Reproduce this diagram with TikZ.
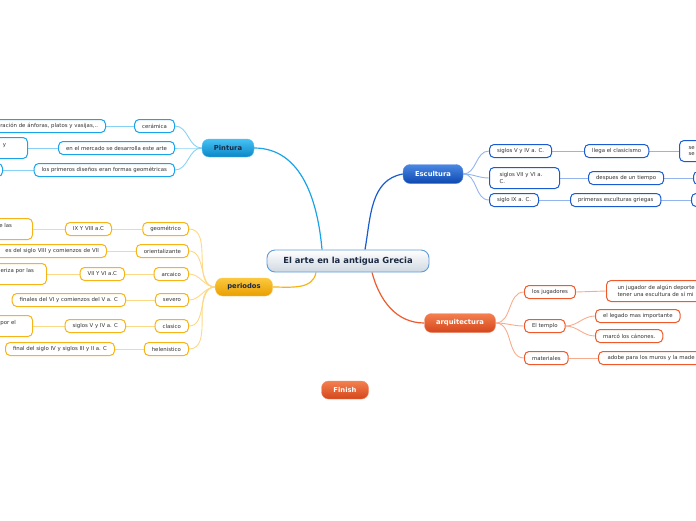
\documentclass[tikz,border=0pt]{standalone}
\usepackage{fontspec}
\setmainfont{DejaVu Sans}
\usetikzlibrary{positioning}
\definecolor{pintblue}{HTML}{1AA3E8}
\definecolor{pinttop}{HTML}{45C2F4}
\definecolor{pintbot}{HTML}{0B86C8}
\definecolor{pintline}{HTML}{86D2F4}
\definecolor{escblue}{HTML}{1A5CCF}
\definecolor{esctop}{HTML}{4A88E4}
\definecolor{escbot}{HTML}{0E48B0}
\definecolor{escline}{HTML}{94B4EE}
\definecolor{perorange}{HTML}{F6B417}
\definecolor{pertop}{HTML}{FBC93E}
\definecolor{perbot}{HTML}{E99E00}
\definecolor{perline}{HTML}{FCD987}
\definecolor{arqred}{HTML}{EE5A2B}
\definecolor{arqtop}{HTML}{F4804F}
\definecolor{arqbot}{HTML}{D4461B}
\definecolor{arqline}{HTML}{F8AC8E}
\definecolor{rootline}{HTML}{5E9CD8}
\definecolor{rootbot}{HTML}{CFD8E1}
\definecolor{roottext}{HTML}{1B2A44}
\definecolor{subtext}{HTML}{333333}
\pgfdeclarelayer{background}
\pgfsetlayers{background,main}

\begin{document}
\begin{tikzpicture}[x=1pt, y=-1pt,
    % 1. Nodo central y ramas principales
    root/.style={
        draw=rootline, line width=0.9pt, rounded corners=8pt,
        top color=white, bottom color=rootbot, text=roottext,
        minimum width=162pt, minimum height=22pt,
        font=\fontsize{8.4}{9}\selectfont\bfseries
    },
    topic/.style={
        rounded corners=7pt, minimum height=18pt, inner xsep=8pt,
        font=\fontsize{6.8}{7.5}\selectfont\bfseries
    },
    % 2. Cajas secundarias por color de rama
    sub/.style={
        fill=white, line width=1pt, rounded corners=4.5pt, text=subtext,
        minimum height=13pt, inner xsep=7.5pt, inner ysep=1pt,
        font=\fontsize{5.4}{6.3}\selectfont
    },
    pint/.style={sub, draw=pintblue},
    esc/.style={sub, draw=escblue},
    per/.style={sub, draw=perorange},
    arq/.style={sub, draw=arqred},
    tall/.style={minimum height=21pt},
    cutleft/.style={text width=#1, align=right},
    % 3. Conectores
    branch/.style={line width=1.2pt},
    twig/.style={line width=0.9pt}
]
    \useasboundingbox (0,0) rectangle (696,520);
    \clip (0,0) rectangle (696,520);

    % --- NODO CENTRAL ---
    \node[root] (root) at (348,261) {El arte en la antigua Grecia};

    % --- RAMA: Pintura ---
    \node[topic, top color=pinttop, bottom color=pintbot, draw=pintblue!70!white, text=roottext, minimum width=52pt] (pintura) at (228,148) {Pintura};
    \node[pint, anchor=east] (ceramica) at (175,126) {cerámica};
    \node[pint, anchor=east] (mercado) at (175,148) {en el mercado se desarrolla este arte};
    \node[pint, anchor=east] (disenos) at (175,170) {los primeros diseños eran formas geométricas};
    \node[pint, anchor=east, cutleft=110pt] (anforas) at (106,126) {ración de ánforas, platos y vasijas,..};
    \node[pint, anchor=east, tall, cutleft=60pt] (venta) at (28,148) {y\rule{14pt}{0pt}\\\mbox{}};
    \node[pint, anchor=east, minimum width=30pt] (formas) at (3,170) {};

    % --- RAMA: Escultura ---
    \node[topic, top color=esctop, bottom color=escbot, draw=escblue!70!white, text=white, minimum width=60pt, minimum height=19pt] (escultura) at (433,174) {Escultura};
    \node[esc, anchor=west] (siglosV) at (489,151) {siglos V y IV a. C.};
    \node[esc, anchor=west, tall, text width=50pt, align=left, inner xsep=10pt] (siglosVII) at (489,178) {siglos VII y VI a.\\C.};
    \node[esc, anchor=west] (sigloIX) at (489,200) {siglo IX a. C.};
    \node[esc, anchor=west] (clasicismo) at (584,151) {llega el clasicismo};
    \node[esc, anchor=west] (tiempo) at (588,178) {despues de un tiempo};
    \node[esc, anchor=west] (primeras) at (570,200) {primeras esculturas griegas};
    \node[esc, anchor=west, tall, text width=30pt, align=left, inner xsep=9pt] (clasnota) at (679,151) {se\\se};
    \node[esc, anchor=west, minimum width=30pt] (tiemponota) at (693,178) {};
    \node[esc, anchor=west, minimum width=30pt] (primnota) at (691,200) {};

    % --- RAMA: periodos ---
    \node[topic, top color=pertop, bottom color=perbot, draw=perorange!70!white, text=roottext, minimum width=57pt] (periodos) at (244,287) {periodos};
    \node[per, anchor=east] (geometrico) at (189,229) {geométrico};
    \node[per, anchor=east] (oriental) at (189,251) {orientalizante};
    \node[per, anchor=east] (arcaico) at (189,274) {arcaico};
    \node[per, anchor=east] (severo) at (189,300) {severo};
    \node[per, anchor=east] (clasico) at (189,326) {clasico};
    \node[per, anchor=east] (helen) at (189,349) {helenistico};
    \node[per, anchor=east] (ixviii) at (112,229) {IX Y VIII a.C};
    \node[per, anchor=east, cutleft=120pt] (viiivii) at (107,251) {es del siglo VIII y comienzos de VII};
    \node[per, anchor=east] (viivi) at (125,274) {VII Y VI a.C};
    \node[per, anchor=east] (vivc) at (126,300) {finales del VI y comienzos del V a. C};
    \node[per, anchor=east] (vivac) at (126,326) {siglos V y IV a. C};
    \node[per, anchor=east] (ivii) at (115,349) {final del siglo IV y siglos III y II a. C};
    \node[per, anchor=east, tall, cutleft=60pt] (geonota) at (33,229) {e las\rule{13pt}{0pt}\\\mbox{}};
    \node[per, anchor=east, tall, cutleft=70pt] (arcnota) at (47,274) {eriza por las\rule{5pt}{0pt}\\\mbox{}};
    \node[per, anchor=east, tall, cutleft=60pt] (clasnota2) at (33,326) {por el\rule{9pt}{0pt}\\\mbox{}};

    % --- RAMA: arquitectura ---
    \node[topic, top color=arqtop, bottom color=arqbot, draw=arqred!70!white, text=white, minimum width=71pt, minimum height=19pt] (arquitectura) at (460,323) {arquitectura};
    \node[arq, anchor=west] (jugadores) at (524,292) {los jugadores};
    \node[arq, anchor=west] (templo) at (524,326) {El templo};
    \node[arq, anchor=west] (materiales) at (524,358) {materiales};
    \node[arq, anchor=west, tall, align=left, inner xsep=11pt] (deporte) at (606,291) {un jugador de algún deporte\\tener una escultura de sí mi};
    \node[arq, anchor=west] (legado) at (595,316) {el legado mas importante};
    \node[arq, anchor=west] (canones) at (595,336) {marcó los cánones.};
    \node[arq, anchor=west, inner xsep=9pt] (adobe) at (598,358) {adobe para los muros y la made};

    % --- Finish ---
    \node[topic, top color=arqtop, bottom color=arqbot, draw=arqred!70!white, text=white, minimum width=47pt] (finish) at (345,390) {Finish};

    % --- CONECTORES ---
    \begin{pgfonlayer}{background}
    \draw[branch, pintblue] ([xshift=-26pt]root.north) to[out=95, in=0] (pintura.east);
    \draw[branch, escblue] ([xshift=17pt]root.north) to[out=80, in=190] (escultura.west);
    \draw[branch, perorange] ([xshift=-32pt]root.south) to[out=-100, in=0] (periodos.east);
    \draw[branch, arqred] ([xshift=24pt]root.south) to[out=-75, in=180] (arquitectura.west);

    \draw[twig, pintline] (pintura.west) to[out=180, in=0] (ceramica.east);
    \draw[twig, pintline] (pintura.west) to[out=180, in=0] (mercado.east);
    \draw[twig, pintline] (pintura.west) to[out=180, in=0] (disenos.east);
    \draw[twig, pintline] (ceramica.west) -- (anforas.east);
    \draw[twig, pintline] (mercado.west) -- (venta.east);
    \draw[twig, pintline] (disenos.west) -- (formas.east);

    \draw[twig, escline] (escultura.east) to[out=0, in=180] (siglosV.west);
    \draw[twig, escline] (escultura.east) to[out=0, in=180] (siglosVII.west);
    \draw[twig, escline] (escultura.east) to[out=0, in=180] (sigloIX.west);
    \draw[twig, escline] (siglosV.east) -- (clasicismo.west);
    \draw[twig, escline] (siglosVII.east) -- (tiempo.west);
    \draw[twig, escline] (sigloIX.east) -- (primeras.west);
    \draw[twig, escline] (clasicismo.east) -- (clasnota.west);
    \draw[twig, escline] (tiempo.east) -- (tiemponota.west);
    \draw[twig, escline] (primeras.east) -- (primnota.west);

    \draw[twig, perline] (periodos.west) to[out=180, in=0] (geometrico.east);
    \draw[twig, perline] (periodos.west) to[out=180, in=0] (oriental.east);
    \draw[twig, perline] (periodos.west) to[out=180, in=0] (arcaico.east);
    \draw[twig, perline] (periodos.west) to[out=180, in=0] (severo.east);
    \draw[twig, perline] (periodos.west) to[out=180, in=0] (clasico.east);
    \draw[twig, perline] (periodos.west) to[out=180, in=0] (helen.east);
    \draw[twig, perline] (geometrico.west) -- (ixviii.east);
    \draw[twig, perline] (oriental.west) -- (viiivii.east);
    \draw[twig, perline] (arcaico.west) -- (viivi.east);
    \draw[twig, perline] (severo.west) -- (vivc.east);
    \draw[twig, perline] (clasico.west) -- (vivac.east);
    \draw[twig, perline] (helen.west) -- (ivii.east);
    \draw[twig, perline] (ixviii.west) -- (geonota.east);
    \draw[twig, perline] (viivi.west) -- (arcnota.east);
    \draw[twig, perline] (vivac.west) -- (clasnota2.east);

    \draw[twig, arqline] (arquitectura.east) to[out=0, in=180] (jugadores.west);
    \draw[twig, arqline] (arquitectura.east) to[out=0, in=180] (templo.west);
    \draw[twig, arqline] (arquitectura.east) to[out=0, in=180] (materiales.west);
    \draw[twig, arqline] (jugadores.east) -- (deporte.west);
    \draw[twig, arqline] (templo.east) to[out=0, in=180] (legado.west);
    \draw[twig, arqline] (templo.east) to[out=0, in=180] (canones.west);
    \draw[twig, arqline] (materiales.east) -- (adobe.west);
    \end{pgfonlayer}
\end{tikzpicture}
\end{document}
